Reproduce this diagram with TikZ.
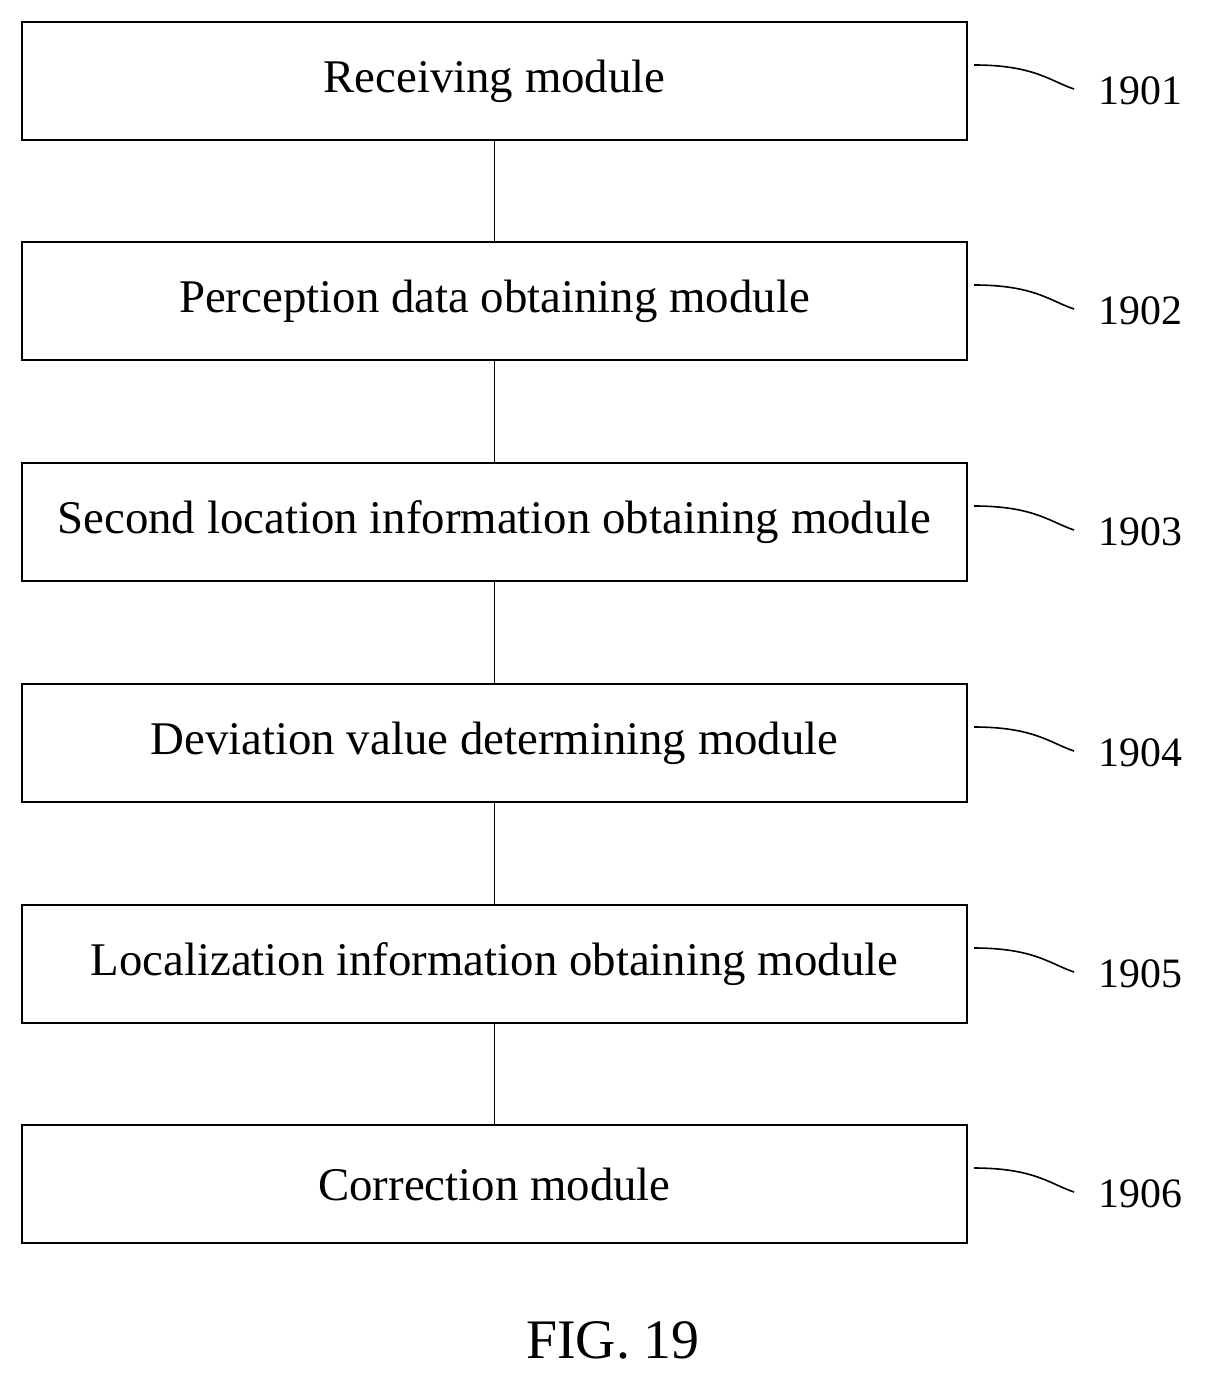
\documentclass[tikz,border=0pt]{standalone}
\usepackage{fontspec}
\setmainfont{Liberation Serif}
\usetikzlibrary{positioning}

\begin{document}
\begin{tikzpicture}[
    x=0.5bp, y=-0.5bp,
    module/.style={draw, line width=1bp, rectangle, minimum width=472.5bp, minimum height=59bp, inner sep=0pt, font=\fontsize{23.5}{26}\selectfont},
    tag/.style={font=\fontsize{21}{24}\selectfont, anchor=west, inner sep=0pt},
    every path/.style={line width=0.8bp}
]
\useasboundingbox (0,0) rectangle (1208,1380);
\node[module] (recv) at (494.5,81) {Receiving module};
\node[module] (perc) at (494.5,301) {Perception data obtaining module};
\node[module] (second) at (494.5,522) {Second location information obtaining module};
\node[module] (dev) at (494.5,743) {Deviation value determining module};
\node[module] (loc) at (494.5,964) {Localization information obtaining module};
\node[module] (corr) at (494.5,1184) {Correction module};

\draw (recv) -- (perc);
\draw (perc) -- (second);
\draw (second) -- (dev);
\draw (dev) -- (loc);
\draw (loc) -- (corr);

% reference numerals
\foreach \n/\m in {recv/1901, perc/1902, second/1903, dev/1904, loc/1905, corr/1906} {
  \coordinate (\n-a) at ([xshift=3bp, yshift=8bp]\n.east);
  \node[tag] (\n-t) at ([xshift=65bp, yshift=-5bp]\n.east) {\m};
  \draw (\n-a) .. controls +(30bp,0) and +(-12bp,4bp) .. ([xshift=-12bp, yshift=1bp]\n-t.west);
}

\node[font=\fontsize{28}{32}\selectfont] (fig) at (613,1340) {FIG. 19};
\end{tikzpicture}
\end{document}
